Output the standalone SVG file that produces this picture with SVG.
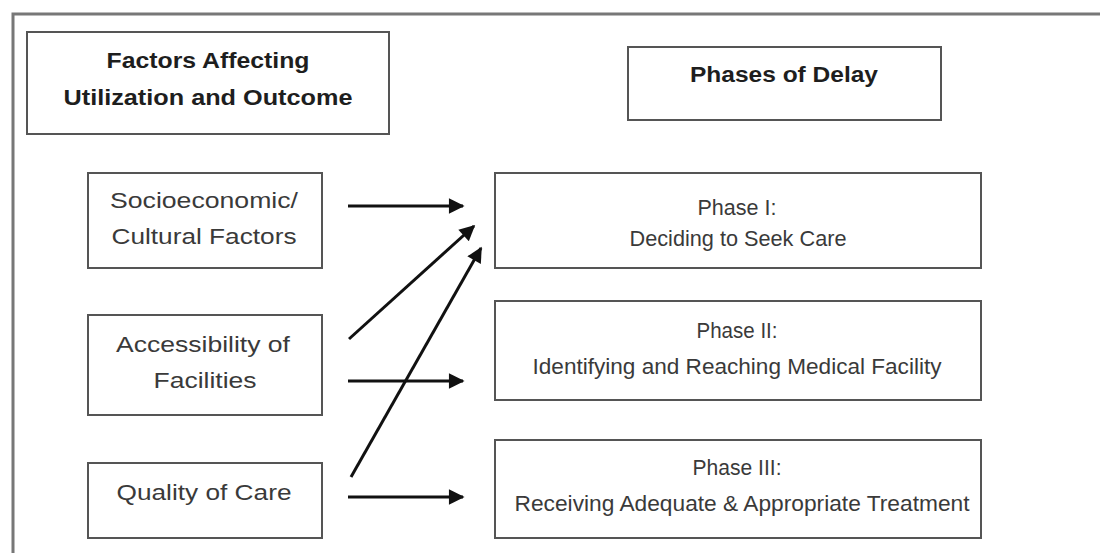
<svg xmlns="http://www.w3.org/2000/svg" width="1100" height="553" viewBox="0 0 1100 553">
<style>
.box{fill:#fff;stroke:#555;stroke-width:2}
.t{font-family:"Liberation Sans",Arial,sans-serif;font-size:22px;fill:#3a3a3a;text-anchor:middle}
.h{font-family:"Liberation Sans",Arial,sans-serif;font-size:22px;font-weight:bold;fill:#1e1e1e;text-anchor:middle}
.c{stroke:#111;stroke-width:3;fill:none;marker-end:url(#ah)}
</style>
<defs>
<marker id="ah" viewBox="0 0 10 10" refX="9" refY="5" markerWidth="6" markerHeight="5.2" markerUnits="strokeWidth" orient="auto">
<path d="M0,0L10,5L0,10z" fill="#111"/>
</marker>
</defs>
<rect x="0" y="0" width="1100" height="553" fill="#fff"/>
<path d="M13,560V14H1110" fill="none" stroke="#777" stroke-width="3"/>
<g id="factors"><rect class="box" x="27" y="32" width="362" height="102"/>
<text class="h" x="208" y="68" textLength="203" lengthAdjust="spacingAndGlyphs">Factors Affecting</text>
<text class="h" x="208" y="105" textLength="289" lengthAdjust="spacingAndGlyphs">Utilization and Outcome</text></g>
<g id="phases"><rect class="box" x="628" y="47" width="313" height="73"/>
<text class="h" x="784" y="82" textLength="188" lengthAdjust="spacingAndGlyphs">Phases of Delay</text></g>
<g id="socio"><rect class="box" x="88" y="173" width="234" height="95"/>
<text class="t" x="204" y="208" textLength="188" lengthAdjust="spacingAndGlyphs">Socioeconomic/</text>
<text class="t" x="204" y="244" textLength="185" lengthAdjust="spacingAndGlyphs">Cultural Factors</text></g>
<g id="access"><rect class="box" x="88" y="315" width="234" height="100"/>
<text class="t" x="203" y="352" textLength="174" lengthAdjust="spacingAndGlyphs">Accessibility of</text>
<text class="t" x="205" y="388" textLength="103" lengthAdjust="spacingAndGlyphs">Facilities</text></g>
<g id="quality"><rect class="box" x="88" y="463" width="234" height="75"/>
<text class="t" x="204" y="500" textLength="175" lengthAdjust="spacingAndGlyphs">Quality of Care</text></g>
<g id="phase1"><rect class="box" x="495" y="173" width="486" height="95"/>
<text class="t" x="737" y="215" textLength="79" lengthAdjust="spacingAndGlyphs">Phase I:</text>
<text class="t" x="738" y="246" textLength="217" lengthAdjust="spacingAndGlyphs">Deciding to Seek Care</text></g>
<g id="phase2"><rect class="box" x="495" y="301" width="486" height="99"/>
<text class="t" x="737" y="338" textLength="81" lengthAdjust="spacingAndGlyphs">Phase II:</text>
<text class="t" x="737" y="374" textLength="409" lengthAdjust="spacingAndGlyphs">Identifying and Reaching Medical Facility</text></g>
<g id="phase3"><rect class="box" x="495" y="440" width="486" height="98"/>
<text class="t" x="737" y="475" textLength="89" lengthAdjust="spacingAndGlyphs">Phase III:</text>
<text class="t" x="742" y="511" textLength="455" lengthAdjust="spacingAndGlyphs">Receiving Adequate &amp; Appropriate Treatment</text></g>
<g id="connectors">
<line class="c" x1="348" y1="206" x2="463" y2="206"/>
<line class="c" x1="349" y1="339" x2="474" y2="226"/>
<line class="c" x1="348" y1="381" x2="463" y2="381"/>
<line class="c" x1="351" y1="477" x2="481" y2="248"/>
<line class="c" x1="348" y1="497" x2="463" y2="497"/>
</g>
</svg>
